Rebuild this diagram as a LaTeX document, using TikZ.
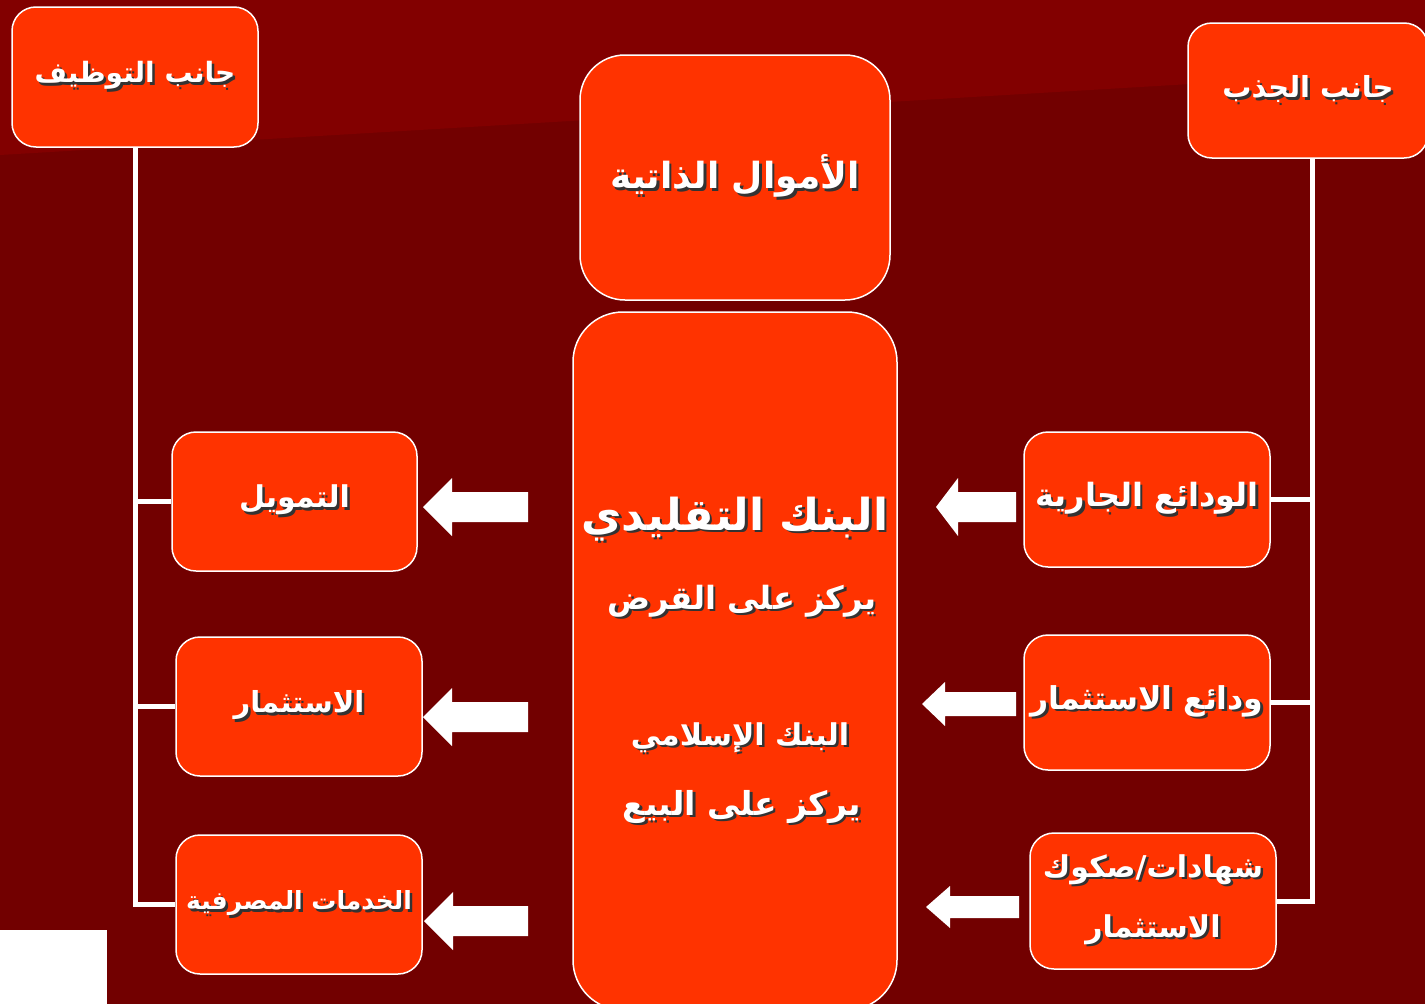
\documentclass[tikz,border=0pt]{standalone}
\usepackage{fontspec}
\usepackage{xcolor}
\usepackage{tikz}
\usetikzlibrary{positioning,calc}
\newfontfamily\arabicfont[Script=Arabic]{DejaVu Sans}
\TeXXeTstate=1
\definecolor{bgdark}{HTML}{720000}
\definecolor{bglight}{HTML}{820000}
\definecolor{boxred}{HTML}{FF3300}
\newcommand\artxt[1]{{\arabicfont\bfseries\beginR #1\endR}}
\newcommand\shtxt[1]{\makebox[0pt][l]{\hspace{2.5pt}\raisebox{-2.5pt}{\color{black!80}\artxt{#1}}}\artxt{#1}}

\begin{document}
\begin{tikzpicture}[x=1pt, y=-1pt,
  redbox/.style={draw=white, fill=boxred, line width=1.5pt, rounded corners=24pt,
                 text=white, align=center, inner sep=0pt},
  treeline/.style={draw=white, line width=5pt},
  arrowfill/.style={fill=white},
]
% background
\clip (0,0) rectangle (1425,1004);
\fill[bgdark] (0,0) rectangle (1425,1004);
\fill[bglight] (0,0) -- (1425,0) -- (1425,70) -- (0,155) -- cycle;
\fill[white] (0,930) rectangle (107,1004);

% top boxes
\node[redbox, minimum width=246, minimum height=140, font=\fontsize{28}{30}\selectfont]
  (tawzif) at (135,77) {\shtxt{جانب التوظيف}};
\node[redbox, minimum width=240, minimum height=135, font=\fontsize{29}{30}\selectfont]
  (jathb) at (1308,90.5) {\shtxt{جانب الجذب}};
\node[redbox, rounded corners=45pt, minimum width=310, minimum height=245,
  font=\fontsize{36}{40}\selectfont] (amwal) at (735,177.5) {\shtxt{الأموال الذاتية}};

% middle bank box
\node[redbox, rounded corners=50pt, minimum width=324, minimum height=698] (bank) at (735,661) {};
\node[text=white, font=\fontsize{44}{48}\selectfont] (bankt) at (735,520) {\shtxt{البنك التقليدي}};
\node[text=white, font=\fontsize{32}{36}\selectfont] (bankq) at (742,602) {\shtxt{يركز على القرض}};
\node[text=white, font=\fontsize{30}{36}\selectfont] (banki) at (740,739) {\shtxt{البنك الإسلامي}};
\node[text=white, font=\fontsize{33}{36}\selectfont] (bankb) at (742,808) {\shtxt{يركز على البيع}};

% right side (sources)
\node[redbox, minimum width=246, minimum height=135, font=\fontsize{32}{34}\selectfont]
  (wadjar) at (1147,499.5) {\shtxt{الودائع الجارية}};
\node[redbox, minimum width=246, minimum height=135, font=\fontsize{31.5}{34}\selectfont]
  (wadist) at (1147,702.5) {\shtxt{ودائع الاستثمار}};
\node[redbox, minimum width=246, minimum height=136, font=\fontsize{30}{60}\selectfont]
  (shahad) at (1153,901) {\shtxt{شهادات/صكوك}\\\shtxt{الاستثمار}};

% left side (uses)
\node[redbox, minimum width=245, minimum height=139, font=\fontsize{30}{34}\selectfont]
  (tamwil) at (294.5,501.5) {\shtxt{التمويل}};
\node[redbox, minimum width=246, minimum height=139, font=\fontsize{29}{34}\selectfont]
  (istith) at (299,706.5) {\shtxt{الاستثمار}};
\node[redbox, minimum width=246, minimum height=139, font=\fontsize{25}{28}\selectfont]
  (khadam) at (299,904.5) {\shtxt{الخدمات المصرفية}};

% tree lines
\draw[treeline] (tawzif.south) |- (khadam.west);
\draw[treeline] (tawzif.south |- tamwil.west) -- (tamwil.west);
\draw[treeline] (tawzif.south |- istith.west) -- (istith.west);
\coordinate (rtop) at (1312,158);
\draw[treeline] (rtop) |- (shahad.east);
\draw[treeline] (wadjar.east) -- (wadjar.east -| rtop);
\draw[treeline] (wadist.east) -- (wadist.east -| rtop);

% block arrows (pointing left)
\foreach \x/\y/\hl/\hh/\sh/\len in {423/507/29/29/15/105, 423/717/29/29/15/105, 424/921/29/29/15/104,
    936/507/22/29/15/80, 922/704/23/22/12/94, 926/907/24/21/11/93} {
  \fill[arrowfill] (\x,\y) -- ++(\hl,-\hh) -- ++(0,\hh-\sh) -- ++(\len-\hl,0) -- ++(0,2*\sh)
    -- ++(\hl-\len,0) -- ++(0,\hh-\sh) -- cycle;
}
\end{tikzpicture}
\end{document}
